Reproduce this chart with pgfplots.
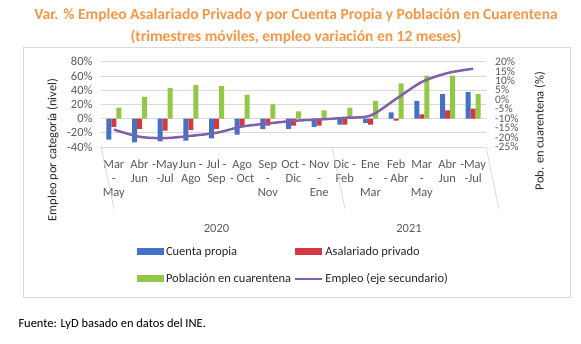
\documentclass[border=0pt]{standalone}
\usepackage{fontspec}
\setmainfont{Carlito}
\usepackage{pgfplots}
\pgfplotsset{compat=1.18}
\definecolor{cblue}{RGB}{68,114,196}
\definecolor{cred}{RGB}{214,56,64}
\definecolor{cgreen}{RGB}{146,200,70}
\definecolor{cpurple}{RGB}{128,96,168}
\definecolor{corange}{RGB}{247,150,70}
\definecolor{tgray}{RGB}{89,89,89}
\definecolor{gridc}{RGB}{217,217,217}
\newcommand{\lf}{\fontsize{12.5}{15}\selectfont}
\newcommand{\cf}{\fontsize{12.5}{14}\selectfont}
\pgfplotsset{
  barleg/.style={legend image code/.code={\fill[##1] (0bp,-3.5bp) rectangle (27bp,3.5bp);}},
  lineleg/.style={legend image code/.code={\draw[##1] (0bp,0bp) -- (27bp,0bp);}},
}
\begin{document}
\begin{tikzpicture}[x=1bp,y=1bp]
\useasboundingbox (0,0) rectangle (581,343);
\draw[gridc, line width=0.75bp] (23,46) rectangle (570,296);
\node[font=\fontsize{15.6}{18}\selectfont\bfseries, text=corange, anchor=base] at (296,324) {Var. \% Empleo Asalariado Privado y por Cuenta Propia y Población en Cuarentena};
\node[font=\fontsize{15.6}{18}\selectfont\bfseries, text=corange, anchor=base] at (296,302) {(trimestres móviles, empleo variación en 12 meses)};
\node[font=\lf, anchor=base west] at (15,16) {Fuente: LyD basado en datos del INE.};
\node[font=\lf, rotate=90, text=black!85] at (53,193) {Empleo por categoría (nivel)};
\node[font=\lf, rotate=90, text=black!85] at (540,212) {Pob. en cuarentena (\%)};

\begin{axis}[
  at={(101bp,196bp)}, anchor=south west, scale only axis,
  width=385bp, height=85.3bp,
  xmin=-0.5, xmax=14.5, ymin=-40, ymax=80,
  ytick={-40,-20,...,80},
  yticklabel={\pgfmathprintnumber{\tick}\%},
  /pgf/number format/assume math mode=true,
  ymajorgrids, grid style={gridc, line width=0.75bp},
  axis line style={draw=none},
  major tick length=0pt,
  xtick={0,...,14},
  xticklabels={{\strut Mar\\-\\May},{\strut Abr\\Jun},{\strut -May\\-Jul},{\strut Jun -\\Ago},{\strut Jul -\\Sep},{\strut Ago\\- Oct},{\strut Sep\\-\\Nov},{\strut Oct -\\Dic},{\strut Nov\\-\\Ene},{\strut Dic -\\Feb},{\strut Ene\\-\\Mar},{\strut Feb\\- Abr},{\strut Mar\\-\\May},{\strut Abr\\Jun},{\strut -May\\-Jul}},
  xticklabel style={align=center, anchor=north, inner sep=0pt, yshift=-12bp, font=\cf, text=tgray},
  yticklabel style={font=\lf, text=tgray, xshift=-5bp},
  clip=false,
  legend columns=2,
  legend style={at={(0.093,-1.14)}, anchor=north west, draw=none, fill=none, font=\lf, text=black!85, row sep=13bp, inner sep=0pt, column sep=0pt},
  legend cell align=left,
]
\addplot[ybar, bar width=5bp, bar shift=-5bp, fill=cblue, draw=none, barleg] coordinates {
(0,-29.5) (1,-33.6) (2,-32) (3,-31) (4,-28) (5,-22.7) (6,-15) (7,-14.5) (8,-11.8) (9,-8.6) (10,-6) (11,8.6) (12,25) (13,34.5) (14,37.3)};
\addlegendentry{\makebox[126bp][l]{Cuenta propia}}
\addplot[ybar, bar width=5bp, bar shift=0bp, fill=cred, draw=none, barleg] coordinates {
(0,-11.8) (1,-14.5) (2,-17) (3,-16) (4,-14.5) (5,-11) (6,-10) (7,-10) (8,-10) (9,-8.6) (10,-8.6) (11,-3) (12,6) (13,11.4) (14,14)};
\addlegendentry{\makebox[126bp][l]{Asalariado privado}}
\addplot[ybar, bar width=5bp, bar shift=5bp, fill=cgreen, draw=none, barleg] coordinates {
(0,15.5) (1,30.5) (2,42.7) (3,47) (4,45.5) (5,33.6) (6,20) (7,10) (8,11.4) (9,15.5) (10,25) (11,49.5) (12,60.5) (13,60.5) (14,34.5)};
\addlegendentry{\makebox[126bp][l]{Población en cuarentena}}
\addlegendimage{cpurple, line width=2.5bp, lineleg}
\addlegendentry{\makebox[126bp][l]{Empleo (eje secundario)}}
\draw[gridc, line width=0.75bp] (axis cs:-0.5,-40) -- ++(0,-90bp);
\draw[gridc, line width=0.75bp] (axis cs:8.5,-40) -- ++(0,-90bp);
\draw[gridc, line width=0.75bp] (axis cs:14.5,-40) -- ++(0,-90bp);
\node[font=\lf, text=tgray, anchor=base] at (axis cs:4,-40) [yshift=-85bp] {2020};
\node[font=\lf, text=tgray, anchor=base] at (axis cs:11.5,-40) [yshift=-85bp] {2021};
\end{axis}

\begin{axis}[
  at={(101bp,196bp)}, anchor=south west, scale only axis,
  width=385bp, height=85.3bp,
  xmin=-0.5, xmax=14.5, ymin=-25, ymax=20,
  axis y line*=right, axis x line=none,
  axis line style={draw=none},
  major tick length=0pt,
  ytick={-25,-20,...,20},
  yticklabel={\pgfmathprintnumber{\tick}\%},
  /pgf/number format/assume math mode=true,
  yticklabel style={font=\fontsize{11.5}{12}\selectfont, text=tgray, xshift=8bp, inner sep=1bp},
  clip=false,
]
\addplot[cpurple, line width=2.5bp, smooth, mark=none] coordinates {
(0,-15.8) (1,-19.6) (2,-20.3) (3,-19.1) (4,-17.5) (5,-14.2) (6,-12.6) (7,-11.2) (8,-10.5) (9,-9.6) (10,-8.4) (11,0.4) (12,9.3) (13,14) (14,16.3)};
\end{axis}
\end{tikzpicture}
\end{document}
